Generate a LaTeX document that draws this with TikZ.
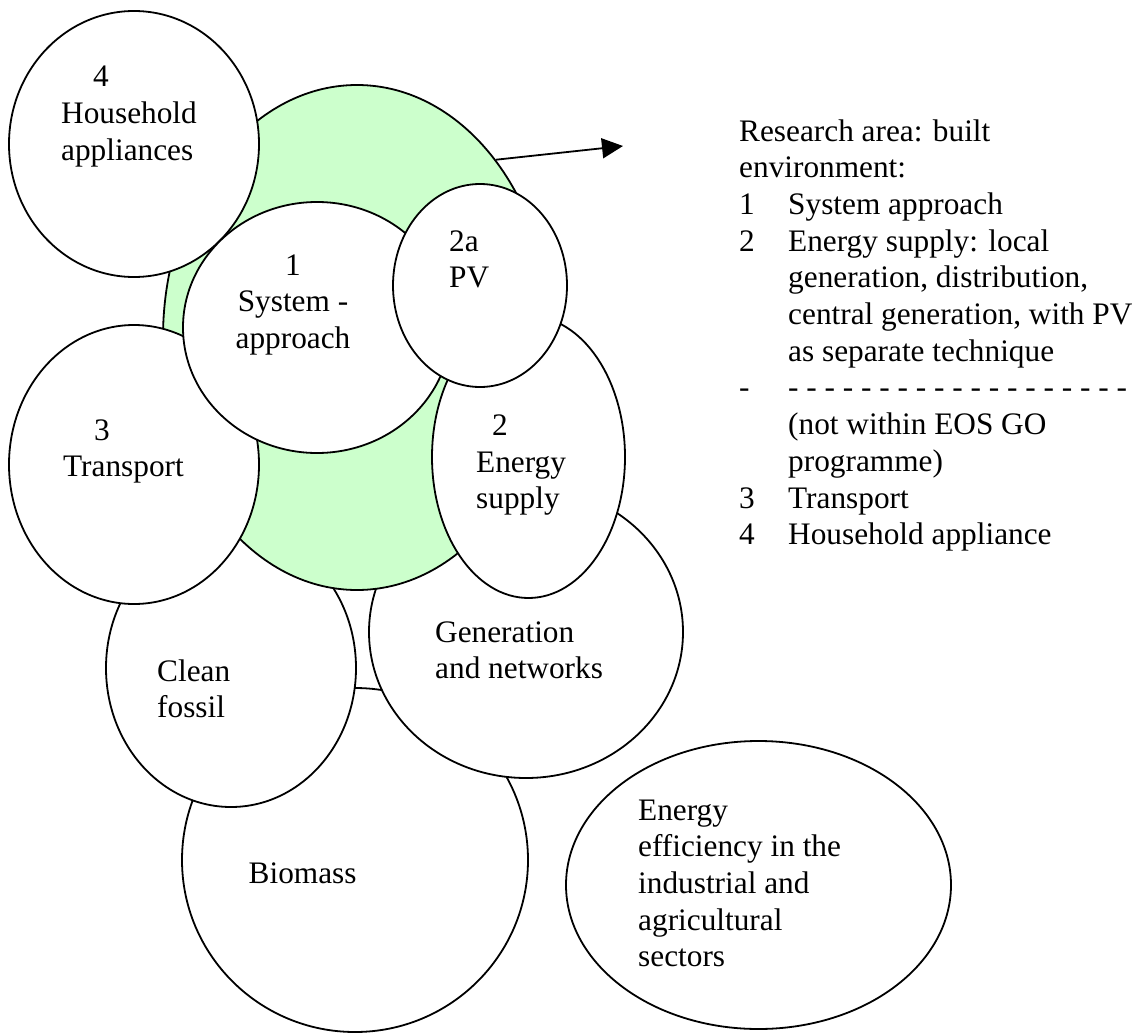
\documentclass[tikz,border=0pt]{standalone}
\usepackage{fontspec}
\setmainfont{Liberation Serif}
\usetikzlibrary{shapes.geometric,arrows.meta}
\definecolor{paleGreen}{RGB}{204,255,204}
\begin{document}
\begin{tikzpicture}[x=1pt,y=-1pt,
  bubble/.style={ellipse,draw=black,line width=1.8pt,fill=white,inner sep=0pt},
  txt/.style={anchor=base west,inner sep=0pt,font=\fontsize{31.3}{36.7}\selectfont},
  ctxt/.style={txt,anchor=base}]
\fill[white] (0,0) rectangle (1146,1033);
\useasboundingbox (0,0) rectangle (1146,1033);

% bubbles, back to front
\node[bubble,minimum width=346pt,minimum height=344pt] (biomass) at (355,860) {};
\node[bubble,minimum width=250pt,minimum height=278pt] (fossil) at (231,668) {};
\node[bubble,minimum width=314pt,minimum height=292pt] (networks) at (526,632) {};
\node[bubble,fill=paleGreen,minimum width=388pt,minimum height=505pt] (built) at (357,337.5) {};
\node[bubble,minimum width=250pt,minimum height=266pt] (household) at (134,144) {};
\node[bubble,minimum width=250pt,minimum height=279pt] (transport) at (134,464.5) {};
\node[bubble,minimum width=268pt,minimum height=251pt] (system) at (317,327.5) {};
\node[bubble,minimum width=193pt,minimum height=282pt] (supply) at (528.5,457) {};
\node[bubble,minimum width=174pt,minimum height=203pt] (pv) at (480,285.5) {};
\node[bubble,minimum width=385pt,minimum height=288pt] (industry) at (758.5,885) {};

% bubble texts
\node[txt] (hhNum) at (93,87) {4};
\node[txt] (hhA) at (61,123.7) {Household};
\node[txt] (hhB) at (61,160.4) {appliances};
\node[ctxt] (sysNum) at (293,275) {1};
\node[ctxt] (sysA) at (293,311.7) {System -};
\node[ctxt] (sysB) at (293,348.4) {approach};
\node[txt] (pvA) at (449,251) {2a};
\node[txt] (pvB) at (449,287.7) {PV};
\node[txt] (trNum) at (94,440) {3};
\node[txt] (trA) at (63,476.7) {Transport};
\node[txt] (supNum) at (492,435.5) {2};
\node[txt] (supA) at (476,472.2) {Energy};
\node[txt] (supB) at (476,508.9) {supply};
\node[txt] (netA) at (435,642) {Generation};
\node[txt] (netB) at (435,678.7) {and networks};
\node[txt] (fosA) at (157,681) {Clean};
\node[txt] (fosB) at (157,717.7) {fossil};
\node[txt] (bio) at (248.5,883) {Biomass};
\foreach \t [count=\k from 0] in {Energy, efficiency in the, industrial and, agricultural, sectors}
  \node[txt] (ind\k) at (638,{820+36.7*\k}) {\t};

% legend
\node[txt] (legA) at (739,141) {Research area: built};
\node[txt] (legB) at (739,177.7) {environment:};
\foreach \n/\k in {1/2, 2/3, -/7, 3/10, 4/11}
  \node[txt] (num\k) at (739,{141+36.7*\k}) {\n};
\foreach \t [count=\k from 2] in {System approach, Energy supply: local,
    {generation, distribution,}, {central generation, with PV},
    as separate technique, {- - - - - - - - - - - - - - - - - - -},
    {(not within EOS GO}, {programme)}, Transport, Household appliance}
  \node[txt] (item\k) at (788,{141+36.7*\k}) {\t};

% pointer from the built-environment area to the legend
\coordinate (tip) at (623,146);
\draw[line width=1.8pt,-{Triangle[length=21pt,width=20pt]}] (built.52.4) -- (tip);
\end{tikzpicture}
\end{document}
